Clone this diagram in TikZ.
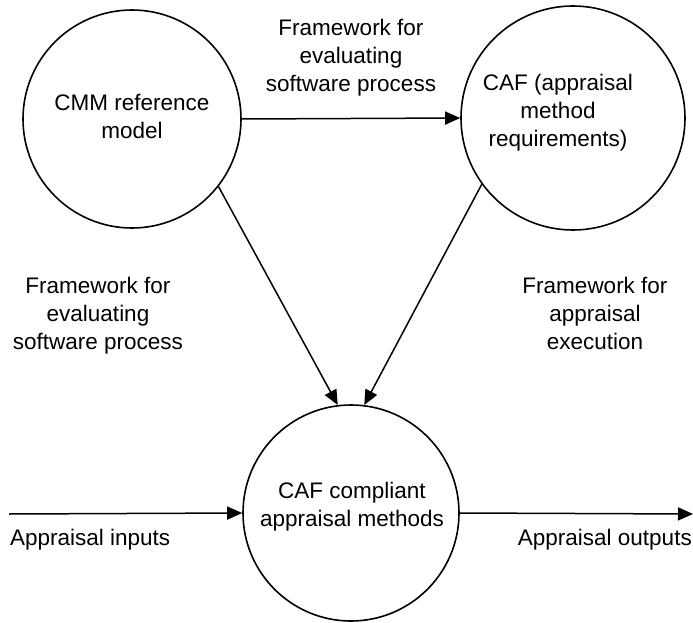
\documentclass[tikz,border=0pt]{standalone}
\usepackage{fontspec}
\setmainfont{Liberation Sans}
\usetikzlibrary{arrows.meta}
\begin{document}
\begin{tikzpicture}[x=1pt,y=1pt,
  txt/.style={font=\fontsize{22.5}{28}\selectfont, align=center, inner sep=0pt},
  bubble/.style={draw, circle, line width=1.6pt, inner sep=0pt, txt},
  arr/.style={line width=1.5pt, -{Triangle[length=15pt,width=13pt]}}]
\useasboundingbox (0,0) rectangle (693,-623);
\node[bubble, minimum size=218pt] (c1) at (132,-119) {};
\node[bubble, minimum size=224pt] (c2) at (573,-118) {};
\node[bubble, minimum size=216pt] (c3) at (351,-513) {};
\node[txt] (t1) at (132,-116) {CMM reference\\model};
\node[txt] (t2) at (558,-113) {CAF (appraisal\\method\\requirements)};
\node[txt] (t3) at (352,-507) {CAF compliant\\appraisal methods};
\node[txt] (l1) at (351,-58) {Framework for\\evaluating\\software process};
\node[txt] (l2) at (98,-316) {Framework for\\evaluating\\software process};
\node[txt] (l3) at (595,-313) {Framework for\\appraisal\\execution};
\node[txt, anchor=base west] (lin) at (10,-545) {Appraisal inputs};
\node[txt, anchor=base east] (lout) at (692,-545) {Appraisal outputs};
\coordinate (in) at (9,-514);
\coordinate (out) at (693,-514);
\draw[arr] (c1.0) -- (c2.180);
\draw[arr] (c1.-38) -- (c3.97);
\draw[arr] (c2.-144.6) -- (c3.83.7);
\draw[arr] (in) -- (c3.west);
\draw[arr] (c3.east) -- (out);
\end{tikzpicture}
\end{document}
